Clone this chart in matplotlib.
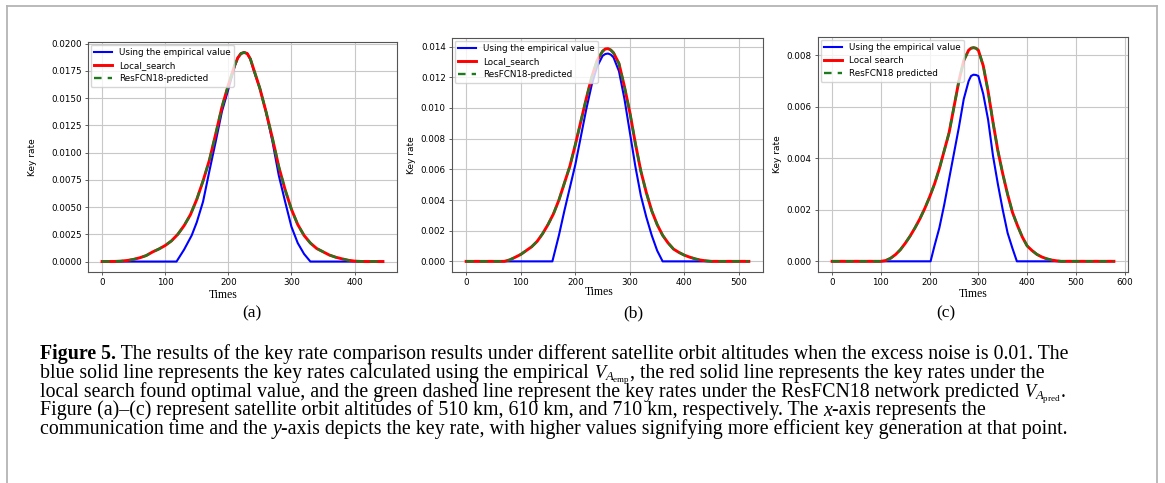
import numpy as np
import matplotlib as mpl
mpl.use('Agg')
from matplotlib import pyplot as pl
from matplotlib.lines import Line2D

mpl.rcParams.update({
    'font.family': 'DejaVu Sans',
    'mathtext.fontset': 'custom',
    'mathtext.rm': 'Liberation Serif',
    'mathtext.it': 'Liberation Serif:italic',
    'mathtext.bf': 'Liberation Serif:bold',
})

# ---- data ----
# (a) 510 km
a_x_ls = [0, 10, 20, 30, 40, 50, 60, 70, 80, 90, 100, 110, 120, 130, 140, 150, 160, 170, 180, 190,
          200, 210, 215, 220, 225, 230, 235, 240, 250, 260, 270, 280, 290, 300, 310, 320, 330, 340,
          350, 360, 370, 380, 390, 400, 410, 420, 430, 445]
a_y_ls = [0, 0, 0.00001, 0.00004, 0.0001, 0.0002, 0.00035, 0.00055, 0.00088, 0.00115, 0.00147,
          0.0019, 0.0025, 0.0033, 0.0043, 0.0057, 0.0074, 0.0093, 0.0117, 0.0142, 0.0162, 0.0180,
          0.0187, 0.0191, 0.0192, 0.0191, 0.0186, 0.0177, 0.0159, 0.0137, 0.0113, 0.0087, 0.0066,
          0.0048, 0.0034, 0.0024, 0.0017, 0.0012, 0.0009, 0.0006, 0.0004, 0.00025, 0.00012,
          0.00004, 0.00001, 0, 0, 0]
a_x_emp = [0, 118, 130, 142, 150, 160, 170, 180, 190, 200, 210, 215, 220, 225, 230, 235, 240, 250,
           260, 270, 280, 290, 300, 310, 320, 330, 445]
a_y_emp = [0, 0, 0.0011, 0.0024, 0.0036, 0.0055, 0.0083, 0.0110, 0.0138, 0.0158, 0.0179, 0.0187,
           0.0191, 0.0192, 0.0191, 0.0186, 0.0176, 0.0159, 0.0137, 0.0110, 0.0079, 0.0055, 0.0032,
           0.0017, 0.0007, 0, 0]

# (b) 610 km
b_x_ls = [0, 70, 80, 90, 100, 110, 120, 130, 140, 150, 160, 170, 180, 190, 200, 210, 220, 230, 240,
          250, 255, 260, 265, 270, 280, 290, 300, 310, 320, 330, 340, 350, 360, 370, 380, 390, 400,
          410, 420, 430, 440, 450, 518]
b_y_ls = [0, 0, 0.0001, 0.00027, 0.00045, 0.0007, 0.00095, 0.0013, 0.0018, 0.0024, 0.0031, 0.0040,
          0.0051, 0.0062, 0.0076, 0.0091, 0.0106, 0.0120, 0.0131, 0.0137, 0.01385, 0.01387,
          0.01378, 0.0136, 0.0129, 0.0114, 0.0097, 0.0077, 0.0059, 0.0045, 0.0033, 0.0024, 0.0017,
          0.0012, 0.0008, 0.00058, 0.0004, 0.00027, 0.00016, 0.00008, 0.00003, 0, 0]
b_x_emp = [0, 158, 170, 180, 190, 200, 210, 220, 230, 240, 250, 255, 260, 265, 270, 280, 290, 300,
           310, 320, 330, 340, 350, 360, 518]
b_y_emp = [0, 0, 0.0017, 0.0033, 0.0048, 0.0063, 0.0081, 0.0099, 0.0115, 0.0127, 0.0134, 0.01352,
           0.01355, 0.01348, 0.0133, 0.0124, 0.0106, 0.0084, 0.0062, 0.0043, 0.0029, 0.0017,
           0.0007, 0, 0]

# (c) 710 km
c_x_ls = [0, 100, 110, 120, 130, 140, 150, 160, 170, 180, 190, 200, 210, 220, 230, 240, 250, 260,
          270, 280, 285, 290, 295, 300, 310, 320, 330, 340, 350, 360, 370, 380, 390, 400, 410, 420,
          430, 440, 450, 460, 470, 578]
c_y_ls = [0, 0, 0.00003, 0.00012, 0.00026, 0.00045, 0.0007, 0.00098, 0.0013, 0.00165, 0.00205,
          0.0025, 0.0030, 0.0036, 0.0043, 0.0050, 0.0060, 0.0070, 0.0078, 0.0082, 0.00828, 0.0083,
          0.00828, 0.0082, 0.0076, 0.0066, 0.0054, 0.0043, 0.0034, 0.0026, 0.0019, 0.0014,
          0.00095, 0.0006, 0.00042, 0.00027, 0.00017, 0.0001, 0.00005, 0.00002, 0, 0]
c_x_emp = [0, 202, 210, 220, 230, 240, 250, 260, 270, 280, 285, 290, 295, 300, 310, 320, 330, 340,
           350, 360, 370, 379, 578]
c_y_emp = [0, 0, 0.0006, 0.0013, 0.0022, 0.0032, 0.0042, 0.0052, 0.0063, 0.0070, 0.0072, 0.00725,
           0.00724, 0.0072, 0.0065, 0.0055, 0.0041, 0.0030, 0.0020, 0.0011, 0.0005, 0, 0]

labels_ab = ['Using the empirical value', 'Local_search', 'ResFCN18-predicted']
labels_c = ['Using the empirical value', 'Local search', 'ResFCN18 predicted']
panel_tags = ['(a)', '(b)', '(c)']

W, H = 1165, 483
fig = pl.figure(figsize=(W / 100, H / 100), dpi=100)
fig.patch.set_facecolor('white')

def px(x0, y0, x1, y1):
    # pixel box -> figure fraction rect
    return [x0 / W, 1 - y1 / H, (x1 - x0) / W, (y1 - y0) / H]

panels = [
    dict(rect=px(88, 42, 397, 272), data=(a_x_emp, a_y_emp, a_x_ls, a_y_ls), labels=labels_ab,
         ylab=-0.165, xlab=(0.437, -0.075), tag=252),
    dict(rect=px(452, 38, 763, 272), data=(b_x_emp, b_y_emp, b_x_ls, b_y_ls), labels=labels_ab,
         ylab=-0.116, xlab=(0.473, -0.058), tag=633),
    dict(rect=px(818, 37, 1128, 272), data=(c_x_emp, c_y_emp, c_x_ls, c_y_ls), labels=labels_c,
         ylab=-0.116, xlab=(0.5, -0.066), tag=946),
]

for p, tag in zip(panels, panel_tags):
    ax = fig.add_axes(p['rect'])
    xe, ye, xl, yl = p['data']
    ax.plot(xe, ye, color='b', lw=1.5, label=p['labels'][0])
    ax.plot(xl, yl, color='r', lw=2.1, label=p['labels'][1])
    ax.plot(xl, yl, color='#1e7a1e', lw=1.7, ls=(0, (3.2, 2.6)), label=p['labels'][2])
    ax.grid(True, color='#c8c8c8', lw=0.8)
    ax.set_axisbelow(True)
    ax.tick_params(labelsize=6.3, length=2.5, width=0.6, color='#444444', pad=2)
    for s in ax.spines.values():
        s.set_color('#555555')
        s.set_linewidth(0.8)
    ax.set_ylabel('Key rate', fontsize=6.5)
    ax.yaxis.set_label_coords(p['ylab'], 0.5)
    ax.set_xlabel('Times', fontsize=8.5, family='Liberation Serif')
    ax.xaxis.set_label_coords(*p['xlab'])
    ax.legend(loc='upper left', fontsize=6.3, borderaxespad=0.3, handlelength=2.0,
              labelspacing=0.45, framealpha=0.8)
    fig.text(p['tag'] / W, 1 - 313 / H, tag, ha='center', va='center',
             family='Liberation Serif', fontsize=12.5)

# ---- caption, written as runs of differently styled text ----
cap_size = 14.3
cap_x = 40
baselines = [359, 378, 397, 415.5, 434]
cap_lines = [
    [('Figure 5.', 'bold'), (' The results of the key rate comparison results under different satellite orbit altitudes when the excess noise is 0.01. The', 'normal')],
    [('blue solid line represents the key rates calculated using the empirical ', 'normal'), ('$V_{A_{\\mathrm{emp}}}$', 'math'), (', the red solid line represents the key rates under the', 'normal')],
    [('local search found optimal value, and the green dashed line represent the key rates under the ResFCN18 network predicted ', 'normal'), ('$V_{A_{\\mathrm{pred}}}$', 'math'), ('.', 'normal')],
    [('Figure (a)\u2013(c) represent satellite orbit altitudes of 510 km, 610 km, and 710 km, respectively. The ', 'normal'), ('x', 'italic'), ('-axis represents the', 'normal')],
    [('communication time and the ', 'normal'), ('y', 'italic'), ('-axis depicts the key rate, with higher values signifying more efficient key generation at that point.', 'normal')],
]

renderer = fig.canvas.get_renderer()
for runs, yb in zip(cap_lines, baselines):
    x = cap_x
    for s, kind in runs:
        kw = dict(family='Liberation Serif', fontsize=cap_size, va='baseline')
        if kind == 'bold':
            kw['fontweight'] = 'bold'
        elif kind == 'italic':
            kw['fontstyle'] = 'italic'
        elif kind == 'math':
            kw['fontsize'] = cap_size * 0.92
        t = fig.text(x / W, 1 - yb / H, s, **kw)
        x = t.get_window_extent(renderer).x1

# page frame
frame = dict(color='#b4b4b4', lw=1.3, transform=fig.transFigure)
fig.add_artist(Line2D([7 / W, 1157 / W], [1 - 6 / H, 1 - 6 / H], **frame))
fig.add_artist(Line2D([7 / W, 7 / W], [1 - 6 / H, 0], **frame))
fig.add_artist(Line2D([1157 / W, 1157 / W], [1 - 6 / H, 0], **frame))

fig.savefig('out.png', dpi=100)
